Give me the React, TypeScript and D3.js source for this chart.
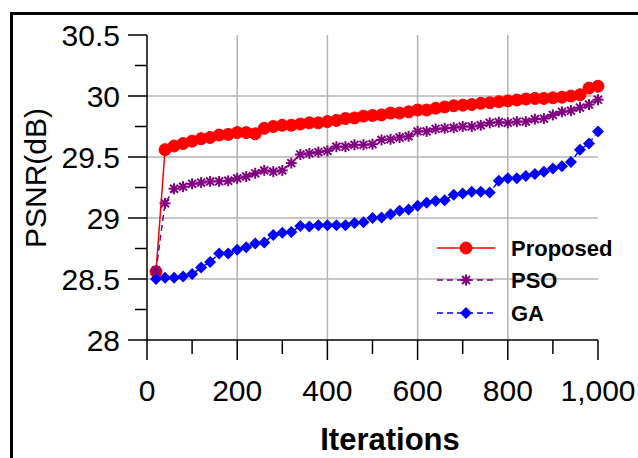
import React from "react";
import * as d3 from "d3";

const iterations = [20, 40, 60, 80, 100, 120, 140, 160, 180, 200, 220, 240, 260, 280, 300, 320, 340, 360, 380, 400, 420, 440, 460, 480, 500, 520, 540, 560, 580, 600, 620, 640, 660, 680, 700, 720, 740, 760, 780, 800, 820, 840, 860, 880, 900, 920, 940, 960, 980, 1000];

const proposed = [28.56, 29.56, 29.59, 29.61, 29.63, 29.65, 29.66, 29.68, 29.685, 29.7, 29.7, 29.69, 29.735, 29.75, 29.76, 29.76, 29.77, 29.78, 29.78, 29.79, 29.8, 29.815, 29.82, 29.835, 29.84, 29.845, 29.86, 29.86, 29.87, 29.885, 29.885, 29.9, 29.91, 29.92, 29.925, 29.93, 29.94, 29.945, 29.953, 29.96, 29.967, 29.975, 29.98, 29.98, 29.985, 29.99, 30.0, 30.01, 30.065, 30.08];

const pso = [28.57, 29.12, 29.24, 29.257, 29.28, 29.29, 29.3, 29.3, 29.305, 29.325, 29.34, 29.366, 29.39, 29.38, 29.39, 29.45, 29.52, 29.53, 29.54, 29.55, 29.585, 29.585, 29.6, 29.6, 29.605, 29.64, 29.645, 29.66, 29.67, 29.71, 29.71, 29.73, 29.735, 29.74, 29.75, 29.75, 29.76, 29.78, 29.785, 29.78, 29.79, 29.79, 29.81, 29.815, 29.845, 29.87, 29.88, 29.905, 29.93, 29.97];

const ga = [28.5, 28.51, 28.51, 28.52, 28.54, 28.595, 28.64, 28.71, 28.71, 28.74, 28.76, 28.79, 28.8, 28.86, 28.88, 28.885, 28.935, 28.93, 28.94, 28.94, 28.94, 28.94, 28.96, 28.965, 29.0, 29.005, 29.03, 29.06, 29.07, 29.1, 29.125, 29.14, 29.145, 29.19, 29.2, 29.215, 29.215, 29.21, 29.305, 29.325, 29.325, 29.345, 29.36, 29.38, 29.405, 29.425, 29.46, 29.56, 29.61, 29.71];

const seriesNames = ["Proposed", "PSO", "GA"];
const yMajorTicks = [28, 28.5, 29, 29.5, 30, 30.5];
const yMinorTicks = [28.25, 28.75, 29.25, 29.75, 30.25];
const xMajorTicks = [0, 200, 400, 600, 800, 1000];
const xMinorTicks = [100, 300, 500, 700, 900];
const xGrid = [200, 400, 600, 800];
const yGrid = [28.5, 29, 29.5, 30];

const W = 638;
const H = 458;
const FONT = "'Liberation Sans', Arial, sans-serif";

const x = d3.scaleLinear().domain([0, 1000]).range([147, 598]);
const y = d3.scaleLinear().domain([28, 30.5]).range([340, 35]);

const colors = ["#ff0000", "#800080", "#0000ff"];
const dashes = [undefined, "6,4", "6,4"];

function Marker({ kind, cx, cy, color }: { kind: number; cx: number; cy: number; color: string }) {
  if (kind === 0) {
    return <circle cx={cx} cy={cy} r={6} fill={color} stroke={color} strokeWidth={1} />;
  }
  if (kind === 1) {
    const a = 5.5;
    const b = a * 0.72;
    return (
      <g stroke={color} strokeWidth={2} fill="none">
        <line x1={cx - a} y1={cy} x2={cx + a} y2={cy} />
        <line x1={cx} y1={cy - a} x2={cx} y2={cy + a} />
        <line x1={cx - b} y1={cy - b} x2={cx + b} y2={cy + b} />
        <line x1={cx - b} y1={cy + b} x2={cx + b} y2={cy - b} />
        <rect x={cx - 2} y={cy - 2} width={4} height={4} fill={color} stroke="none" />
      </g>
    );
  }
  const s = 6;
  return <path d={`M${cx},${cy - s}L${cx + s},${cy}L${cx},${cy + s}L${cx - s},${cy}Z`} fill={color} />;
}

export default function App() {
  const data = [proposed, pso, ga];
  const line = d3
    .line<number>()
    .x((_, i) => x(iterations[i]))
    .y((d) => y(d));
  const fmt = d3.format(",");

  const legendRows = [248, 280, 313];

  return (
    <svg
      width={W}
      height={H}
      style={{ position: "absolute", left: 0, top: 0, background: "#fff" }}
      fontFamily={FONT}
    >
      <rect x={0} y={0} width={W} height={H} fill="#fff" />
      {/* frame */}
      <line x1={11.5} y1={13.5} x2={W} y2={13.5} stroke="#000" strokeWidth={3} />
      <line x1={11.5} y1={12} x2={11.5} y2={H} stroke="#000" strokeWidth={3} />

      {/* grid */}
      {xGrid.map((t) => (
        <line key={"gx" + t} x1={x(t)} x2={x(t)} y1={y(30.5)} y2={y(28)} stroke="#b4b4b4" strokeWidth={1.5} />
      ))}
      {yGrid.map((t) => (
        <line key={"gy" + t} x1={x(0)} x2={x(1000)} y1={y(t)} y2={y(t)} stroke="#b4b4b4" strokeWidth={1.5} />
      ))}

      {/* axes */}
      <line x1={x(0)} x2={x(0)} y1={y(30.5)} y2={y(28)} stroke="#000" strokeWidth={1.5} />
      <line x1={x(0)} x2={x(1000)} y1={y(28)} y2={y(28)} stroke="#000" strokeWidth={1.5} />
      {yMajorTicks.map((t) => (
        <g key={"ym" + t}>
          <line x1={x(0) - 19} x2={x(0)} y1={y(t)} y2={y(t)} stroke="#000" strokeWidth={1.5} />
          <text x={120} y={y(t)} dy="0.35em" textAnchor="end" fontSize={30} fill="#000">
            {String(t)}
          </text>
        </g>
      ))}
      {yMinorTicks.map((t) => (
        <line key={"yn" + t} x1={x(0) - 12} x2={x(0)} y1={y(t)} y2={y(t)} stroke="#000" strokeWidth={1.5} />
      ))}
      {xMajorTicks.map((t) => (
        <g key={"xm" + t}>
          <line x1={x(t)} x2={x(t)} y1={y(28)} y2={y(28) + 20} stroke="#000" strokeWidth={1.5} />
          <text x={x(t)} y={401} textAnchor="middle" fontSize={30} fill="#000">
            {fmt(t)}
          </text>
        </g>
      ))}
      {xMinorTicks.map((t) => (
        <line key={"xn" + t} x1={x(t)} x2={x(t)} y1={y(28)} y2={y(28) + 14} stroke="#000" strokeWidth={1.5} />
      ))}

      {/* titles */}
      <text x={390} y={450} textAnchor="middle" fontSize={31} fontWeight="bold" fill="#000">
        Iterations
      </text>
      <text
        transform="translate(46,178) rotate(-90)"
        textAnchor="middle"
        fontSize={30}
        fill="#000"
      >
        PSNR(dB)
      </text>

      {/* series */}
      {data.map((vals, k) => (
        <g key={"s" + k}>
          <path d={line(vals) || ""} fill="none" stroke={colors[k]} strokeWidth={1.5} strokeDasharray={dashes[k]} />
          {vals.map((v, i) => (
            <Marker key={i} kind={k} cx={x(iterations[i])} cy={y(v)} color={colors[k]} />
          ))}
        </g>
      ))}

      {/* legend */}
      {seriesNames.map((name, k) => (
        <g key={"l" + k}>
          <line x1={437} x2={495} y1={legendRows[k]} y2={legendRows[k]} stroke={colors[k]} strokeWidth={1.5} strokeDasharray={dashes[k]} />
          <Marker kind={k} cx={466} cy={legendRows[k]} color={colors[k]} />
          <text x={511} y={legendRows[k]} dy="0.35em" fontSize={22} fontWeight="bold" fill="#000">
            {name}
          </text>
        </g>
      ))}
    </svg>
  );
}
